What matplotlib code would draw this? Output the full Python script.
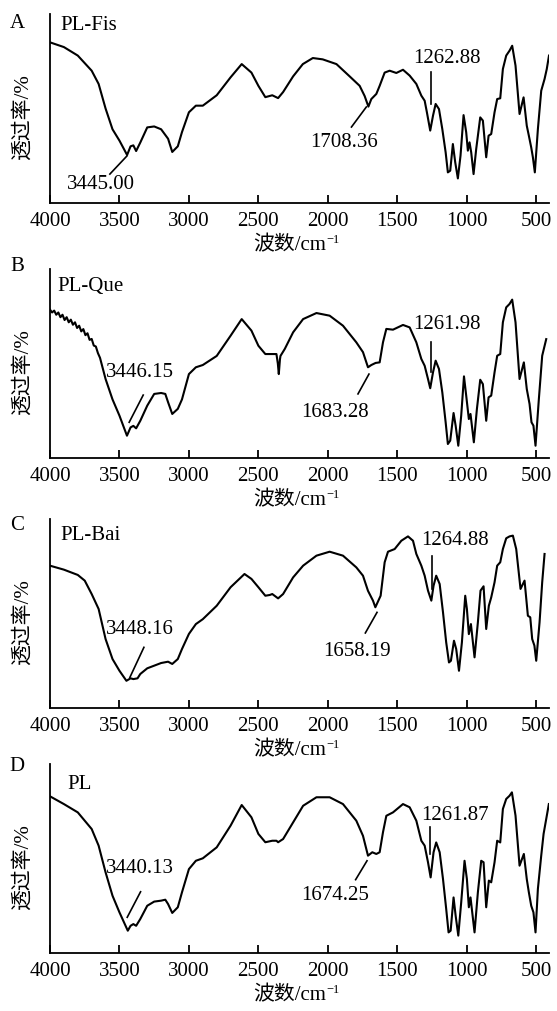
import matplotlib
matplotlib.use("Agg")
import matplotlib.pyplot as plt

plt.rcParams['font.family'] = ['Liberation Serif', 'Noto Sans CJK SC', 'DejaVu Sans']

# ---- data (wavenumber / cm-1, relative transmittance) ----
wn_a = [4000, 3900, 3800, 3700, 3650, 3600, 3550, 3500, 3445, 3420, 3400, 3380, 3350, 3300,
        3250, 3200, 3150, 3120, 3080, 3050, 3000, 2950, 2900, 2800, 2700, 2620, 2550, 2500,
        2450, 2400, 2358, 2322, 2250, 2180, 2108, 2037, 1938, 1843, 1771, 1735, 1708, 1687,
        1651, 1627, 1591, 1555, 1507, 1459, 1411, 1363, 1327, 1303, 1287, 1263, 1243, 1224,
        1200, 1176, 1152, 1136, 1119, 1100, 1083, 1064, 1045, 1023, 1004, 992, 980, 968, 951,
        932, 903, 884, 860, 843, 824, 800, 781, 759, 740, 716, 692, 673, 649, 620, 591, 568,
        553, 536, 524, 510, 488, 464, 440, 424, 408]
tr_a = [85.0, 82.5, 78, 70, 63, 50, 39, 33, 25.4, 30, 30.5, 27.5, 32, 40,
        40.5, 39, 34, 27, 30, 37.5, 48, 51.5, 51.5, 57, 66.5, 73.5, 69, 62,
        56, 57, 55.5, 58.7, 67, 73.5, 76.7, 76, 73.5, 67, 62, 56.6, 51, 55,
        57.7, 62, 69, 70, 68.8, 70.5, 67.4, 63, 56.8, 54.1, 48, 38.3, 46.2, 52.4,
        49.7, 39.1, 26.8, 16.2, 17.1, 31.2, 21.5, 13.0, 25, 46.5, 37.4, 27.7, 32.1, 26.8, 15.3,
        28.6, 45.3, 43.6, 24.2, 35.6, 36.5, 48, 55, 55.4, 70.9, 78, 80.6, 83.2, 72.7, 47.1, 55.9, 40.9,
        35.6, 29.4, 24.2, 16.2, 39.1, 59.4, 65.6, 70.9, 78]

wn_b = [4000, 3985, 3970, 3955, 3940, 3925, 3910, 3895, 3880, 3865, 3850, 3835, 3820, 3805,
        3790, 3775, 3760, 3745, 3730, 3715, 3700, 3685, 3670, 3655, 3640, 3600, 3550, 3500,
        3446, 3420, 3400, 3380, 3350, 3300, 3250, 3200, 3170, 3150, 3120, 3080, 3050, 3000,
        2950, 2900, 2800, 2700, 2620, 2550, 2500, 2450, 2418, 2370, 2360, 2353, 2345, 2341,
        2310, 2250, 2178, 2082, 1987, 1891, 1795, 1747, 1711, 1687, 1656, 1627, 1603, 1579,
        1531, 1459, 1411, 1363, 1327, 1303, 1279, 1263, 1243, 1224, 1200, 1176, 1152, 1136,
        1119, 1095, 1080, 1061, 1040, 1020, 1004, 985, 973, 949, 927, 903, 884, 860, 843, 824,
        800, 781, 759, 740, 716, 692, 673, 649, 620, 589, 568, 548, 534, 520, 505, 481, 457, 428]
tr_b = [78.5, 77.0, 78.0, 75.8, 77.0, 74.5, 75.8, 73.0, 74.5, 71.8, 73.2, 70.5, 71.8, 68.8,
        70.0, 67.0, 68.2, 65.0, 66.0, 62.5, 63.0, 59.5, 59.0, 55.5, 53.0, 41.8, 31, 22.4,
        11.8, 16.2, 17, 15.7, 19.7, 27.7, 33.9, 34.4, 33.9, 29.5, 23.3, 26, 31, 44.4,
        48, 49.2, 54, 64.7, 73.5, 67.4, 59.4, 55, 55, 55, 50, 44.4, 52, 54,
        57.7, 66.5, 73.5, 76.7, 75.3, 70, 61.2, 56, 48, 49.2, 50.3, 50.6, 61.2, 68.3,
        67.9, 70.4, 69.1, 61.2, 52.4, 48.8, 41.8, 36.9, 45.3, 51.5, 47.1, 34.7, 18.9, 7.4,
        9.2, 23.8, 17.1, 6.5, 22.4, 43.2, 33, 20.6, 23.3, 8.3, 25.9, 41.4, 39.1, 19.7, 32.1, 33,
        45.3, 54.1, 55, 71.8, 79.7, 81.5, 83.8, 71.8, 41.8, 50.6, 36.5, 28.6, 18.9, 17.1, 6.5, 31.2, 54.1, 62.9]

wn_c = [4000, 3900, 3800, 3750, 3700, 3650, 3600, 3550, 3500, 3450, 3420, 3400, 3370, 3350,
        3300, 3250, 3200, 3150, 3120, 3080, 3050, 3000, 2950, 2900, 2800, 2700, 2600, 2550,
        2500, 2450, 2418, 2400, 2358, 2322, 2250, 2178, 2082, 1987, 1891, 1795, 1747, 1711,
        1675, 1658, 1620, 1591, 1567, 1519, 1471, 1423, 1387, 1363, 1327, 1303, 1279, 1255,
        1239, 1220, 1195, 1171, 1148, 1128, 1114, 1092, 1076, 1056, 1035, 1011, 999, 985, 970,
        944, 920, 901, 879, 860, 841, 824, 800, 781, 759, 740, 716, 692, 668, 644, 613, 584,
        560, 543, 529, 513, 500, 476, 457, 440]
tr_c = [75.3, 73.2, 70.4, 67.4, 60.3, 52.4, 36.5, 25.9, 19.7, 14.4, 15.7, 15.3, 15.7, 18,
        21, 22.4, 23.8, 24.5, 23.3, 25.9, 31.2, 39.2, 44.4, 47, 54.1, 63.9, 70.9, 68.3,
        63.9, 59.4, 59.8, 60.3, 58, 60.3, 69.1, 75.3, 80.6, 82.7, 80.6, 74.4, 70, 62,
        56.8, 53.3, 59.4, 77.1, 82.7, 84.1, 88.5, 90.8, 88.5, 81.5, 75.3, 70, 62.1, 56.8,
        64.7, 70, 65.6, 50.6, 34.7, 24.1, 25, 35.6, 31.2, 19.7, 34.7, 59.4, 52.4, 39.1, 44.4,
        26.8, 45.3, 62.1, 64.4, 41.8, 54.1, 58.5, 66.5, 75.3, 77.1, 84.1, 89.8, 90.8, 91.2, 84.1, 63, 67.4,
        48.8, 48, 36.5, 33, 25, 45.3, 66.5, 81.5]

wn_d = [4000, 3900, 3800, 3700, 3650, 3600, 3550, 3500, 3440, 3420, 3400, 3380, 3350, 3300,
        3250, 3200, 3170, 3150, 3120, 3080, 3050, 3000, 2950, 2900, 2800, 2700, 2620, 2550,
        2500, 2450, 2400, 2370, 2358, 2322, 2250, 2178, 2082, 1987, 1891, 1795, 1747, 1711,
        1680, 1651, 1627, 1603, 1579, 1531, 1459, 1411, 1363, 1327, 1303, 1279, 1260, 1239,
        1220, 1195, 1171, 1148, 1131, 1116, 1095, 1080, 1061, 1040, 1016, 999, 985, 973, 944,
        920, 896, 879, 860, 841, 824, 800, 781, 759, 740, 716, 692, 675, 649, 620, 589, 568,
        553, 536, 520, 505, 488, 464, 447, 428, 409]
tr_d = [82.9, 78.8, 74.4, 65.6, 56.8, 42.7, 30.3, 21.5, 11.8, 14.4, 15.3, 14.4, 18, 25,
        27.2, 27.7, 28.2, 25.9, 21.2, 24.2, 32.1, 44.4, 48.8, 50.1, 55.9, 67.4, 78.3, 71.8,
        63, 58.6, 59.4, 59.4, 58.6, 60.3, 69.1, 77.9, 82.4, 82.4, 78.8, 70, 62, 51.5,
        53.3, 52.4, 53.3, 63.9, 72.6, 74.4, 78.8, 77.1, 70, 59.4, 56.8, 48, 40, 53.3,
        58.5, 53.3, 39.1, 23.3, 10.9, 11.8, 29.4, 19.7, 9.2, 26.8, 48.8, 39.1, 24.2, 29.4, 10.9,
        32.1, 48.8, 48, 24.2, 38.3, 37.4, 48, 59.4, 58.5, 76.2, 81.5, 83.2, 85, 72.7, 46.2, 52.4, 39.1,
        32.1, 25, 21.5, 10.9, 33.9, 51.5, 63, 70.9, 78.8]

panel_letters = ['A', 'B', 'C', 'D']
sample_names = ['PL-Fis', 'PL-Que', 'PL-Bai', 'PL']
x_ticks = [4000, 3500, 3000, 2500, 2000, 1500, 1000, 500]

# peak labels: (text, text x, text y, line x0, y0, x1, y1)
peaks_a = [('3445.00', 3633, 10.1, 3446, 24.9, 3569, 15.3),
           ('1708.36', 1886, 32.3, 1723, 50.8, 1830, 40.2),
           ('1262.88', 1145, 77.2, 1260, 69.3, 1260, 52.4)]
peaks_b = [('3446.15', 3353, 45.7, 3430, 18.9, 3329, 33.3),
           ('1683.28', 1947, 24.5, 1704, 44.4, 1783, 33.9),
           ('1261.98', 1145, 70.9, 1260, 61.5, 1260, 45.3)]
peaks_c = [('3448.16', 3353, 42.2, 3425, 16.2, 3324, 32.1),
           ('1658.19', 1792, 30.3, 1646, 50.6, 1730, 39.7),
           ('1264.88', 1088, 89.1, 1251, 80.6, 1251, 63.0)]
peaks_d = [('3440.13', 3353, 45.3, 3444, 18.9, 3348, 32.4),
           ('1674.25', 1947, 30.7, 1718, 48.8, 1800, 38.8),
           ('1261.87', 1088, 73.5, 1263, 66.5, 1263, 52.4)]

spectra = [(wn_a, tr_a, peaks_a), (wn_b, tr_b, peaks_b),
           (wn_c, tr_c, peaks_c), (wn_d, tr_d, peaks_d)]

W, H = 557, 1012
fig = plt.figure(figsize=(W / 100, H / 100), dpi=100)
renderer = fig.canvas.get_renderer()

# pixel layout of the four panels (top, bottom)
rows = [(15, 204), (270, 459), (520, 709), (765, 954)]
letter_y = [24, 267, 525, 767]
name_xy = [(60, 25), (57, 287), (60, 536), (67, 785)]
left, right = 50, 549
fs = 15

for i, (wn, tr, peaks) in enumerate(spectra):
    top, bot = rows[i]
    ax = fig.add_axes([left / W, 1 - bot / H, (right - left) / W, (bot - top) / H])
    ax.plot(wn, tr, color='black', lw=1.5, solid_joinstyle='round')
    ax.set_xlim(4000, 408)
    ax.set_ylim(0, 100)
    ax.set_xticks(x_ticks)
    ax.set_yticks([])
    ax.spines['top'].set_visible(False)
    ax.spines['right'].set_visible(False)
    ax.spines['left'].set_linewidth(1.3)
    ax.spines['bottom'].set_linewidth(1.3)
    ax.tick_params(axis='x', direction='in', length=6, width=1.3, pad=6, labelsize=fs)

    for label, tx, ty, x0, y0, x1, y1 in peaks:
        ax.plot([x0, x1], [y0, y1], color='black', lw=1.2)
        ax.text(tx, ty, label, fontsize=fs, ha='center', va='center')

    fig.text(17 / W, 1 - letter_y[i] / H, panel_letters[i], fontsize=fs, ha='center', va='center')
    nx_, ny_ = name_xy[i]
    fig.text(nx_ / W, 1 - ny_ / H, sample_names[i], fontsize=fs, ha='left', va='center')
    fig.text(23 / W, 1 - (top + 102) / H, '透过率/%', fontsize=fs, rotation=90,
             ha='center', va='center')

    # x label with a small superscript -1
    xl = fig.text(253 / W, 1 - (bot + 42) / H, '波数/cm', fontsize=fs, ha='left', va='center')
    bb = xl.get_window_extent(renderer=renderer)
    fig.text(bb.x1 / W + 0.5 / W, 1 - (bot + 36) / H, '−1', fontsize=9, ha='left', va='center')

fig.savefig('out.png', dpi=100)
